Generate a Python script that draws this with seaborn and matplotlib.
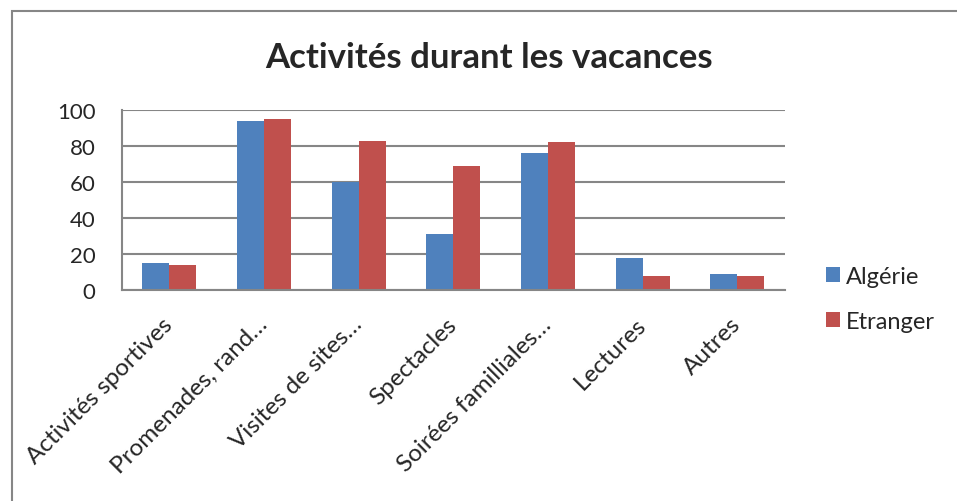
import matplotlib
matplotlib.use("Agg")
import matplotlib.pyplot as plt
import seaborn as sns
import pandas as pd
from matplotlib.patches import Rectangle

categories = ["Activités sportives", "Promenades, rand…", "Visites de sites…", "Spectacles",
              "Soirées familliales…", "Lectures", "Autres"]
algerie = [15, 94, 60, 31, 76, 18, 9]
etranger = [14, 95, 83, 69, 82, 8, 8]
series = ["Algérie", "Etranger"]
yticks = [0, 20, 40, 60, 80, 100]

df = pd.DataFrame({
    "cat": categories * 2,
    "val": algerie + etranger,
    "serie": [series[0]] * len(categories) + [series[1]] * len(categories),
})

sns.set_style("white")
plt.rcParams["font.family"] = ["Lato", "DejaVu Sans"]

fig = plt.figure(figsize=(9.57, 5.02), dpi=100)
ax = fig.add_axes([0.1275, 0.4203, 0.6925, 0.3586])

sns.barplot(data=df, x="cat", y="val", hue="serie", palette=["#4F81BD", "#C0504D"],
            width=0.57, gap=0, ax=ax, saturation=1, edgecolor="none")

ax.set_ylim(0, 100)
ax.set_yticks(yticks)
ax.set_yticklabels([str(v) for v in yticks], fontsize=16)
ax.set_xlim(-0.5, len(categories) - 0.5)
ax.set_xlabel("")
ax.set_ylabel("")
ax.set_xticks(range(len(categories)))
ax.set_xticklabels(categories, rotation=45, ha="right", va="center", rotation_mode="anchor", fontsize=17.5)
ax.tick_params(axis="x", length=0, pad=22)
ax.tick_params(axis="y", length=0, pad=19)
ax.yaxis.grid(True, color="#868686", linewidth=1.5)
ax.set_axisbelow(True)
for s in ["top", "right"]:
    ax.spines[s].set_visible(False)
for s in ["left", "bottom"]:
    ax.spines[s].set_color("#868686")
    ax.spines[s].set_linewidth(1.5)

leg = ax.legend(loc="center left", bbox_to_anchor=(1.03, -0.05), frameon=False, fontsize=17,
                handlelength=0.6, handleheight=0.6, handletextpad=0.25, labelspacing=1.0)

fig.text(0.511, 0.884, "Activités durant les vacances", ha="center", va="center",
         fontsize=25, fontweight="bold")

fig.patches.append(Rectangle((12 / 957, -0.1), 1.2, 1 - 12 / 502 + 0.1, transform=fig.transFigure,
                             fill=False, edgecolor="#868686", linewidth=1.5))

fig.savefig("out.png", dpi=100)
